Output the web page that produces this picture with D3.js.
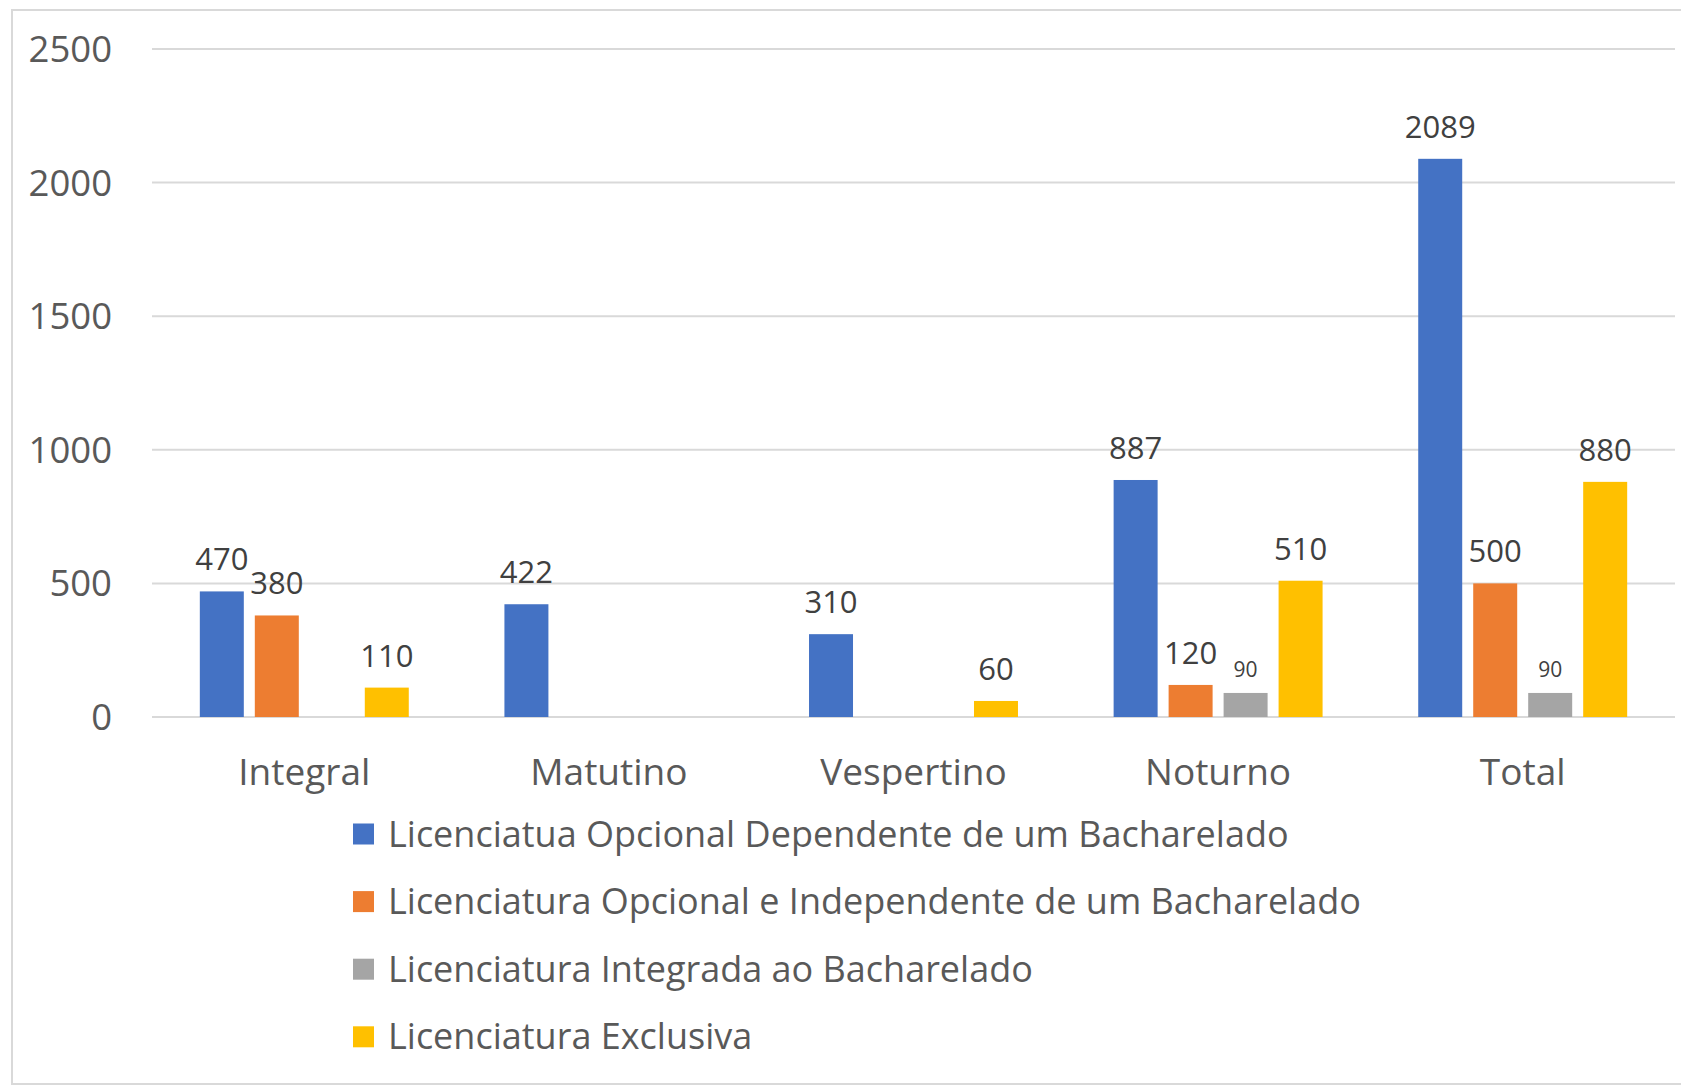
<!DOCTYPE html>
<html>
<head>
<meta charset="utf-8">
<script src="https://cdn.jsdelivr.net/npm/d3@7"></script>
<style>
  html, body { margin: 0; padding: 0; background: #fff; }
  svg { display: block; }
  text { font-family: "Open Sans", sans-serif; }
</style>
</head>
<body>
<svg id="chart" width="1681" height="1087"></svg>
<script>
const categories = ["Integral", "Matutino", "Vespertino", "Noturno", "Total"];
const seriesNames = [
  "Licenciatua Opcional Dependente de um Bacharelado",
  "Licenciatura Opcional e Independente de um Bacharelado",
  "Licenciatura Integrada ao Bacharelado",
  "Licenciatura Exclusiva"
];
const serieDependente   = [470, 422, 310, 887, 2089];
const serieIndependente = [380, null, null, 120, 500];
const serieIntegrada    = [null, null, null, 90, 90];
const serieExclusiva    = [110, null, 60, 510, 880];
const yTicks = [0, 500, 1000, 1500, 2000, 2500];

const seriesValues = [serieDependente, serieIndependente, serieIntegrada, serieExclusiva];
const colors = ["#4472C4", "#ED7D31", "#A5A5A5", "#FFC000"];
const labelSizes = [31, 31, 21, 31];
const labelOffsets = [21, 21, 16, 21];

const svg = d3.select("#chart");

// outer frame
svg.append("rect")
  .attr("x", 12).attr("y", 10)
  .attr("width", 1700).attr("height", 1074)
  .attr("fill", "none").attr("stroke", "#d9d9d9").attr("stroke-width", 2);

const plotLeft = 152, plotRight = 1675, plotTop = 49, plotBottom = 717;

const y = d3.scaleLinear().domain([0, 2500]).range([plotBottom, plotTop]);
const x0 = d3.scaleBand().domain(categories).range([plotLeft, plotRight]).paddingInner(0).paddingOuter(0);
const groupW = x0.bandwidth() * 0.686;
const x1 = d3.scaleBand().domain(d3.range(seriesNames.length)).range([0, groupW]).paddingInner(0.2).paddingOuter(0);

// gridlines
svg.append("g").selectAll("line").data(yTicks).join("line")
  .attr("x1", plotLeft).attr("x2", plotRight)
  .attr("y1", d => y(d)).attr("y2", d => y(d))
  .attr("stroke", "#d9d9d9").attr("stroke-width", 2);

// y tick labels
svg.append("g").selectAll("text").data(yTicks).join("text")
  .attr("x", 112).attr("y", d => y(d) + 13)
  .attr("text-anchor", "end")
  .attr("font-size", 36.5).attr("fill", "#595959")
  .text(d => d);

// bars
const barData = [];
categories.forEach((c, ci) => {
  seriesValues.forEach((vals, si) => {
    const v = vals[ci];
    if (v != null) barData.push({ c, si, v });
  });
});

const gx = c => x0(c) + (x0.bandwidth() - groupW) / 2;

svg.append("g").selectAll("rect").data(barData).join("rect")
  .attr("x", d => gx(d.c) + x1(d.si))
  .attr("width", x1.bandwidth())
  .attr("y", d => y(d.v))
  .attr("height", d => y(0) - y(d.v))
  .attr("fill", d => colors[d.si]);

// data labels
svg.append("g").selectAll("text").data(barData).join("text")
  .attr("x", d => gx(d.c) + x1(d.si) + x1.bandwidth() / 2)
  .attr("y", d => y(d.v) - labelOffsets[d.si])
  .attr("text-anchor", "middle")
  .attr("font-size", d => labelSizes[d.si])
  .attr("fill", "#404040")
  .text(d => d.v);

// category labels
svg.append("g").selectAll("text").data(categories).join("text")
  .attr("x", d => x0(d) + x0.bandwidth() / 2)
  .attr("y", 785)
  .attr("text-anchor", "middle")
  .attr("font-size", 37).attr("fill", "#595959")
  .text(d => d);

// legend
const legend = svg.append("g").selectAll("g").data(seriesNames).join("g")
  .attr("transform", (d, i) => `translate(353, ${834 + i * 67.6})`);
legend.append("rect")
  .attr("x", 0).attr("y", -10.5).attr("width", 21).attr("height", 21)
  .attr("fill", (d, i) => colors[i]);
legend.append("text")
  .attr("x", 35).attr("y", 12.5)
  .attr("font-size", 36).attr("fill", "#595959")
  .text(d => d);
</script>
</body>
</html>
